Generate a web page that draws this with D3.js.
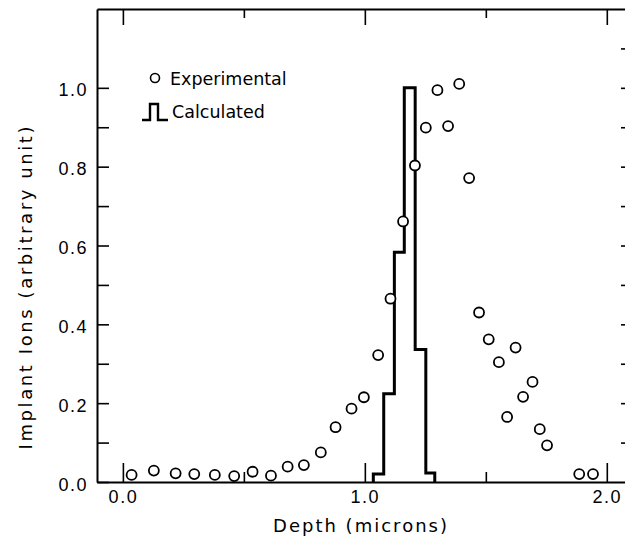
<!DOCTYPE html>
<html>
<head>
<meta charset="utf-8">
<script src="https://cdn.jsdelivr.net/npm/d3@7"></script>
<style>
  body { margin: 0; background: #fff; }
  svg { display: block; font-family: "DejaVu Sans", sans-serif; }
</style>
</head>
<body>
<script>
// experimental points: depth (microns) and implant ions (arbitrary unit)
const expDepth = [0.036, 0.128, 0.218, 0.295, 0.380, 0.460, 0.536, 0.612, 0.681, 0.748,
                  0.818, 0.879, 0.945, 0.996, 1.055, 1.106, 1.158, 1.207, 1.252, 1.300,
                  1.344, 1.390, 1.431, 1.472, 1.512, 1.554, 1.588, 1.623, 1.654, 1.693,
                  1.723, 1.753, 1.886, 1.943];
const expIons = [0.018, 0.029, 0.022, 0.020, 0.018, 0.015, 0.026, 0.016, 0.039, 0.043,
                 0.075, 0.139, 0.186, 0.215, 0.322, 0.465, 0.661, 0.803, 0.899, 0.994,
                 0.903, 1.010, 0.771, 0.430, 0.362, 0.304, 0.165, 0.341, 0.216, 0.254,
                 0.134, 0.093, 0.020, 0.020];

// calculated histogram: bin edges and bin heights
const calcEdges = [1.035, 1.078, 1.122, 1.163, 1.208, 1.252, 1.289];
const calcIons = [0.020, 0.224, 0.583, 1.000, 0.336, 0.023];

// tick values
const xMajor = [0.0, 1.0, 2.0];
const xMinor = [0.5, 1.5];
const yLabelled = [0.0, 0.2, 0.4, 0.6, 0.8, 1.0];
const yLeftTicks = [0.0, 0.1, 0.2, 0.3, 0.4, 0.5, 0.6, 0.7, 0.8, 0.9, 1.0];
const yRightTicks = [0.1, 0.2, 0.3, 0.4, 0.5, 0.6, 0.7, 0.8, 0.9, 1.0, 1.1];

const W = 625, H = 540;
const plotLeft = 97, plotRight = 631, plotTop = 9, plotBottom = 482;

const svg = d3.select("body").append("svg")
    .attr("width", W)
    .attr("height", H);

const x = d3.scaleLinear().domain([-0.107, 2.1]).range([plotLeft, plotRight]);
const y = d3.scaleLinear().domain([0, 1.2]).range([plotBottom, plotTop]);

function styleAxis(g) {
    g.select(".domain").attr("stroke", "#000").attr("stroke-width", 2);
    g.selectAll(".tick line").attr("stroke", "#000").attr("stroke-width", 1.6);
    g.selectAll(".tick text")
        .attr("fill", "#000")
        .style("font-size", "18px")
        .style("letter-spacing", "1.5px");
}

// bottom axis, major ticks with labels
svg.append("g")
    .attr("transform", "translate(0," + plotBottom + ")")
    .call(d3.axisBottom(x).tickValues(xMajor).tickSize(-19).tickSizeOuter(0)
        .tickPadding(8).tickFormat(d3.format(".1f")))
    .call(styleAxis);

// bottom minor ticks
svg.append("g")
    .attr("transform", "translate(0," + plotBottom + ")")
    .call(d3.axisBottom(x).tickValues(xMinor).tickSize(-10).tickFormat(""))
    .call(g => g.select(".domain").remove())
    .call(styleAxis);

// top axis
svg.append("g")
    .attr("transform", "translate(0," + plotTop + ")")
    .call(d3.axisTop(x).tickValues(xMajor).tickSize(-16).tickSizeOuter(0).tickFormat(""))
    .call(styleAxis);

svg.append("g")
    .attr("transform", "translate(0," + plotTop + ")")
    .call(d3.axisTop(x).tickValues(xMinor).tickSize(-9).tickFormat(""))
    .call(g => g.select(".domain").remove())
    .call(styleAxis);

// left axis ticks
svg.append("g")
    .attr("transform", "translate(" + plotLeft + ",0)")
    .call(d3.axisLeft(y).tickValues(yLeftTicks).tickSize(-12).tickSizeOuter(0).tickFormat(""))
    .call(styleAxis);

// left labels
svg.append("g")
    .attr("transform", "translate(" + plotLeft + ",0)")
    .call(d3.axisLeft(y).tickValues(yLabelled).tickSize(0).tickPadding(9)
        .tickFormat(d3.format(".1f")))
    .call(g => g.select(".domain").remove())
    .call(styleAxis)
    .call(g => g.selectAll(".tick text").attr("dy", "0.45em"));

// right axis
svg.append("g")
    .attr("transform", "translate(" + plotRight + ",0)")
    .call(d3.axisRight(y).tickValues(yRightTicks).tickSize(-10).tickSizeOuter(0).tickFormat(""))
    .call(styleAxis);

// axis titles
svg.append("text")
    .attr("x", 360)
    .attr("y", 532)
    .attr("text-anchor", "middle")
    .attr("textLength", 174)
    .attr("lengthAdjust", "spacing")
    .style("font-size", "18px")
    .text("Depth  (microns)");

svg.append("text")
    .attr("transform", "translate(32,288) rotate(-90)")
    .attr("text-anchor", "middle")
    .attr("textLength", 323)
    .attr("lengthAdjust", "spacing")
    .style("font-size", "18px")
    .text("Implant Ions (arbitrary unit)");

// calculated histogram as a step line
const stepPts = [[calcEdges[0], 0]];
calcIons.forEach((v, i) => stepPts.push([calcEdges[i], v]));
stepPts.push([calcEdges[calcEdges.length - 1], 0]);

const step = d3.line()
    .x(d => x(d[0]))
    .y(d => y(d[1]))
    .curve(d3.curveStepAfter);

svg.append("path")
    .datum(stepPts)
    .attr("d", step)
    .attr("fill", "none")
    .attr("stroke", "#000")
    .attr("stroke-width", 3);

// experimental circles
svg.selectAll("circle.exp")
    .data(expDepth.map((d, i) => ({ depth: d, ions: expIons[i] })))
    .enter().append("circle")
    .attr("class", "exp")
    .attr("cx", d => x(d.depth))
    .attr("cy", d => y(d.ions))
    .attr("r", 5)
    .attr("fill", "#fff")
    .attr("stroke", "#000")
    .attr("stroke-width", 1.8);

// legend
const legend = svg.append("g").attr("transform", "translate(142,78)");

legend.append("circle")
    .attr("cx", 13)
    .attr("cy", 0)
    .attr("r", 4.5)
    .attr("fill", "#fff")
    .attr("stroke", "#000")
    .attr("stroke-width", 1.6);

legend.append("text")
    .attr("x", 28)
    .attr("y", 7)
    .style("font-size", "17.5px")
    .text("Experimental");

legend.append("path")
    .attr("d", "M0,42 H8 V26 H16 V42 H26")
    .attr("fill", "none")
    .attr("stroke", "#000")
    .attr("stroke-width", 2.4);

legend.append("text")
    .attr("x", 30)
    .attr("y", 40)
    .style("font-size", "17.5px")
    .text("Calculated");
</script>
</body>
</html>
